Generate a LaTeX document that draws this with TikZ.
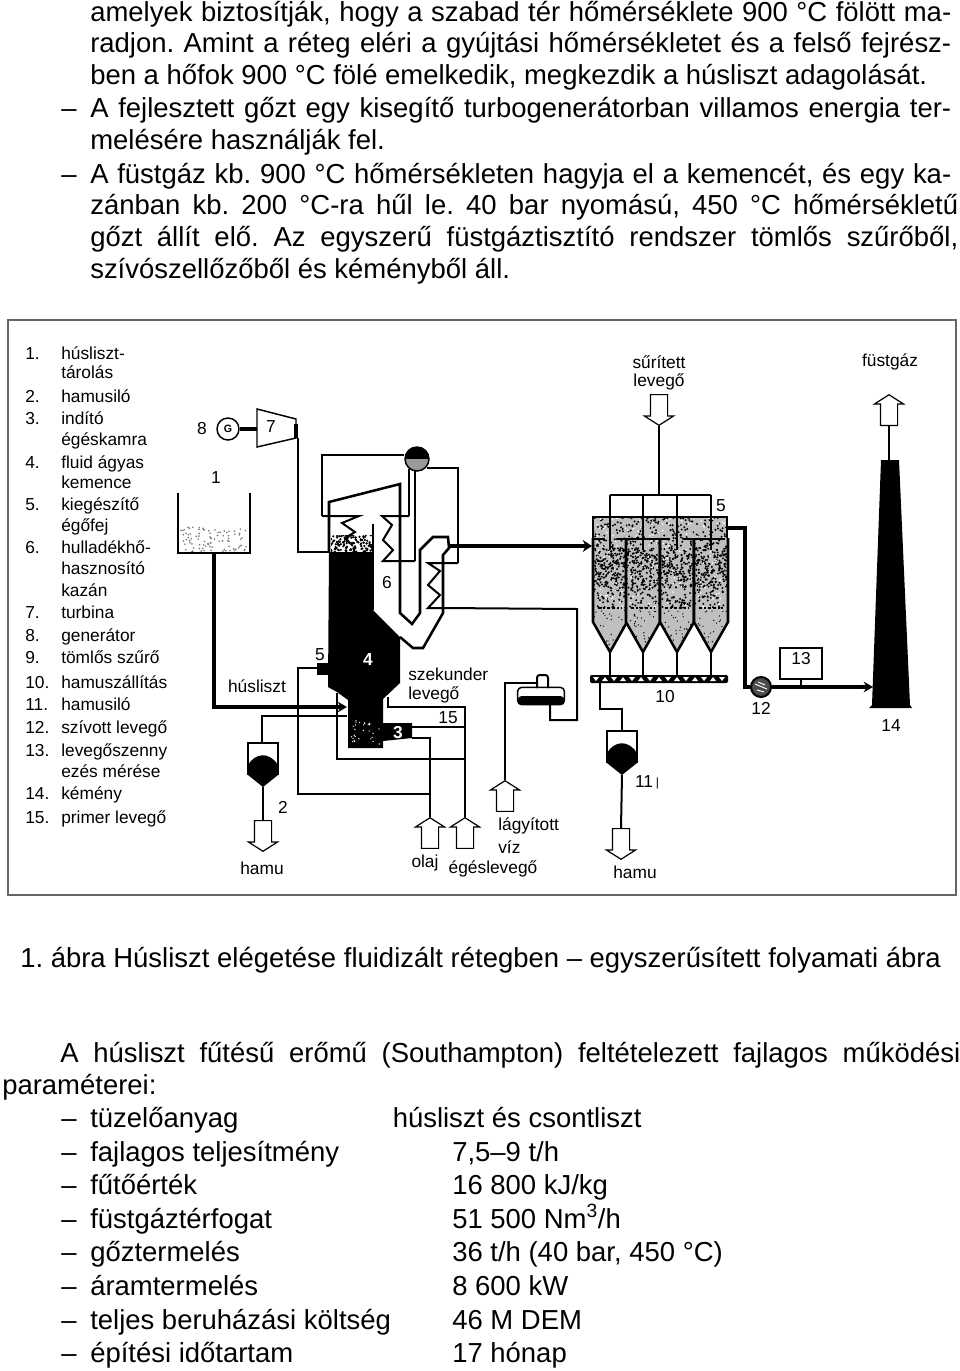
\documentclass[tikz,border=0pt]{standalone}
\usepackage{fontspec}
\setmainfont{Liberation Sans}
\frenchspacing
\usetikzlibrary{arrows.meta, positioning, calc, shapes.arrows}
\newcommand{\fullline}[2]{\hbox to #1pt{#2}}
\tikzset{
    plantdiagram/.style={x=0.75pt, y=-0.75pt, >=Stealth},
    bodytext/.style={anchor=base west, inner sep=0pt, font=\fontsize{20.6}{24}\selectfont},
    legendtext/.style={anchor=base west, inner sep=0pt, font=\fontsize{13}{15}\selectfont},
    tag/.style={inner sep=0pt, align=center, font=\fontsize{13}{15}\selectfont},
    frameline/.style={draw=black!60, line width=1.2pt},
    wall/.style={line width=1.9pt},
    thinpipe/.style={line width=1.1pt},
    midpipe/.style={line width=1.5pt},
    heavypipe/.style={line width=2.6pt},
    gaspipe/.style={line width=3.6pt},
    flowarrow/.style={draw, fill=white, line width=0.9pt, single arrow, single arrow head extend=4.5pt,
        single arrow tip angle=115, single arrow head indent=0pt, minimum height=23pt,
        inner xsep=0pt, inner ysep=6pt},
    ashsilo/.pic={
        \fill (-15,22) .. controls (-8,10) and (6,8) .. (15,22) -- (15,32) -- (0,44) -- (-15,32) -- cycle;
        \draw[wall] (-15,32) -- (-15,0) -- (15,0) -- (15,32);
        \coordinate (-top) at (0,0);
        \coordinate (-tip) at (0,44);
    },
}
\begin{document}
\begin{tikzpicture}[plantdiagram]
    \useasboundingbox (0,0) rectangle (960,1371);
    \pgfmathsetseed{7}

    % text above the figure
    \node[bodytext] (top1) at (90,21)  {\fullline{645.75}{amelyek biztosítják, hogy a szabad tér hőmérséklete 900 °C fölött ma-}};
    \node[bodytext] (top2) at (90,52)  {\fullline{645.75}{radjon. Amint a réteg eléri a gyújtási hőmérsékletet és a felső fejrész-}};
    \node[bodytext] (top3) at (90,84)  {ben a hőfok 900 °C fölé emelkedik, megkezdik a húsliszt adagolását.};
    \node[bodytext] (top4) at (90,117) {\fullline{645.75}{A fejlesztett gőzt egy kisegítő turbogenerátorban villamos energia ter-}};
    \node[bodytext] (top5) at (90,149) {melésére használják fel.};
    \node[bodytext] (top6) at (90,183) {\fullline{645.75}{A füstgáz kb. 900 °C hőmérsékleten hagyja el a kemencét, és egy ka-}};
    \node[bodytext] (top7) at (90,214) {\fullline{651}{zánban kb. 200 °C-ra hűl le. 40 bar nyomású, 450 °C hőmérsékletű}};
    \node[bodytext] (top8) at (90,246) {\fullline{651}{gőzt állít elő. Az egyszerű füstgáztisztító rendszer tömlős szűrőből,}};
    \node[bodytext] (top9) at (90,278) {szívószellőzőből és kéményből áll.};
    \node[bodytext] (dash4) at (61,117) {–};
    \node[bodytext] (dash6) at (61,183) {–};

    % frame and legend
    \draw[frameline] (8,320) rectangle (956,895);
    \foreach \y/\lbl in {359/1., 402/2., 424/3., 468/4., 510/5., 553/6., 618/7., 641/8., 663/9., 688/10., 710/11., 733/12., 756/13., 799/14., 823/15.}
        \node[legendtext] (num\lbl) at (25,\y) {\lbl};
    \foreach \y/\lbl [count=\n] in {359/húsliszt-, 378/tárolás, 402/hamusiló, 424/indító, 445/égéskamra, 468/fluid ágyas, 488/kemence, 510/kiegészítő, 531/égőfej, 553/hulladékhő-, 574/hasznosító, 596/kazán, 618/turbina, 641/generátor, 663/tömlős szűrő, 688/hamuszállítás, 710/hamusiló, 733/szívott levegő, 756/levegőszenny, 777/ezés mérése, 799/kémény, 823/primer levegő}
        \node[legendtext] (leg\n) at (61,\y) {\lbl};

    % storage tank 1
    \begin{scope}
        \clip (180,525) rectangle (248,552);
        \foreach \i in {1,...,90}
            \fill[black!55] ({181+66*rnd},{527+25*rnd}) circle (0.9);
    \end{scope}
    \draw[wall] (178,493) |- (250,553) -- (250,493);
    \coordinate (tankout) at (214,553);

    % turbine and generator
    \coordinate (turbA) at (257,409);
    \coordinate (turbB) at (296,419);
    \coordinate (turbC) at (296,438);
    \coordinate (turbD) at (257,447);
    \draw[thinpipe] (turbA) -- (turbB) -- (turbC) -- (turbD) -- cycle;
    \node[draw, circle, line width=1.1pt, minimum size=16.5pt, inner sep=0pt, font=\fontsize{8}{8}\bfseries\selectfont] (gen) at (228,429) {G};
    \draw[heavypipe] (gen) -- (gen -| turbA);
    \draw[heavypipe] (296,424) -- (turbC);

    % furnace 4
    \fill (329,552) -- (373,552) -- (373,610) -- (400,637) -- (400,683) -- (383,699) -- (383,723) -- (412,723)
        -- (412,738) -- (383,741) -- (383,748) -- (348,748) -- (348,700) -- (337,692) -- (328,687) -- cycle;
    \foreach \i in {1,...,28}
        \fill[white] ({350+32*rnd},{719+26*rnd}) circle (0.7);
    \begin{scope}
        \clip (331,535) rectangle (372,553);
        \foreach \i in {1,...,130}
            \fill ({331+41*rnd},{535+18*rnd}) circle (1.2);
    \end{scope}
    \fill (317,663) rectangle (329,675);
    \coordinate (burner) at (317,668);
    \draw[wall] (329,552) -- (329,502) -- (400,484) -- (400,613) -- (412,624) -- (420,613) -- (420,550) -- (433,537)
        -- (448,537) -- (449,548) -- (443,555) -- (443,613) -- (423,648) -- (413,648) -- (400,637);
    \draw[wall] (373,524) -- (373,610);

    % steam drum and coils
    \node[draw, circle, thinpipe, minimum size=18pt, inner sep=0pt, fill=black!40,
        path picture={\fill[black] (path picture bounding box.west) rectangle (path picture bounding box.north east);}] (drum) at (417,459) {};
    \draw[thinpipe] (turbC) ++ (2,0) |- (329,552);
    \draw[thinpipe] (drum.west |- 0,455) -| (322,516);
    \draw[midpipe] (322,516) -- (359,516) -- (342,523) -- (355,532) -- (345,538) -- (352,545);
    \draw[thinpipe] (409,469) -- (409,516);
    \draw[midpipe] (409,516) -- (382,516) -- (392,525) -- (383,540) -- (393,550) -- (383,561) -- (415,561);
    \draw[thinpipe] (415,470) -- (415,561);
    \draw[thinpipe] (427,468) -| (458,563);
    \draw[midpipe] (458,563) -- (428,563) -- (440,571) -- (428,585) -- (440,595) -- (428,608) -- (443,608);

    % feed water heater
    \node[draw, thinpipe, rounded corners=3pt, minimum width=35pt, minimum height=13pt, inner sep=0pt,
        path picture={\fill (path picture bounding box.west) rectangle (path picture bounding box.south east);}] (heater) at (541,696) {};
    \draw[midpipe, rounded corners=2pt] (537,688) -- (537,675) -- (548,675) -- (548,688);
    \node[flowarrow, rotate=90, anchor=tip] (waterin) at (505,780) {};
    \draw[thinpipe] (waterin.tip) |- (537,683);
    \draw[midpipe] (550,705) |- (577,720) -- (577,609) -- (443,608);

    % feeds of the furnace
    \coordinate (feedin) at (347,707);
    \draw[heavypipe, -{Stealth[length=7pt, width=8pt]}] (tankout) |- (feedin);
    \draw[thinpipe] (347,716) -| (262,742);
    \pic (silotwo) at (263,743) {ashsilo};
    \node[flowarrow, rotate=-90, anchor=tail] (ashoutA) at (263,820) {};
    \draw[thinpipe] (silotwo-tip) -- (ashoutA.tail);
    \node[flowarrow, rotate=90, anchor=tip] (oilin) at (430,817) {};
    \node[flowarrow, rotate=90, anchor=tip] (airin) at (465,817) {};
    \draw[midpipe] (412,738) -| (oilin.tip);
    \draw[midpipe] (388,697) |- (465,707) -- (airin.tip);
    \draw[midpipe] (412,727) -- (465,727);
    \draw[wall] (337,693) |- (465,759);
    \draw[thinpipe] (burner) -| (298,794) -- (430,794);

    % bag filter 9
    \foreach \cx/\n in {610/1, 643/2, 677/3, 711/4} {
        \begin{scope}
            \clip (\cx-17,517) -- (\cx+17,517) -- (\cx+17,622) -- (\cx,652) -- (\cx-17,622) -- cycle;
            \fill[black!25] (\cx-17,517) rectangle (\cx+17,652);
            \foreach \i in {1,...,170}
                \fill ({\cx-17+34*rnd},{517+91*rnd}) circle (1.1);
            \foreach \i in {1,...,110}
                \fill ({\cx-17+34*rnd},{548+40*rnd}) circle (1.1);
            \foreach \i in {1,...,40}
                \fill ({\cx-17+34*rnd},{610+42*rnd}) circle (0.7);
            \foreach \i in {1,...,40}
                \fill[white] ({\cx-17+34*rnd},{517+91*rnd}) circle (0.9);
        \end{scope}
        \draw[wall] (\cx-17,538) -- (\cx-17,622) -- (\cx,652) -- (\cx+17,622) -- (\cx+17,538);
        \draw[wall, dash pattern=on 2pt off 1.5pt] (\cx-12,608) -- (\cx+12,608);
        \coordinate (hopper\n) at (\cx,652);
        \coordinate (riser\n) at (\cx,495);
        \draw[midpipe] (riser\n) -- (\cx,550);
    }
    \draw[wall] (593,538) |- (727,517) -- (727,538);
    \draw[wall] (593,539) -- (605,539) (617,539) -- (670,539) (683,539) -- (725,539);
    \draw[midpipe] (riser1) -- (riser4);
    \node[flowarrow, rotate=-90, anchor=tip] (airfilter) at (659,426) {};
    \draw[thinpipe] (airfilter.tip) -- (659,495);
    \coordinate (gasin) at (592,546);
    \draw[gaspipe, -{Stealth[length=7pt, width=9pt]}] (449,546) -- (gasin);

    % ash conveyor and silo 11
    \node[fill, rounded corners=1pt, minimum width=103.5pt, minimum height=6pt, inner sep=0pt] (conveyor) at (659,679) {};
    \foreach \tx [count=\n] in {596,605,...,722}
        \fill[white] (\tx-3,{681-mod(\n,2)*4}) -- (\tx+3,{681-mod(\n,2)*4}) -- (\tx,{681-mod(\n+1,2)*4}) -- cycle;
    \foreach \n in {1,...,4}
        \draw[midpipe] (hopper\n) -- (hopper\n |- conveyor.north);
    \draw[midpipe] (600,683) |- (622,709) -- (622,731);
    \pic (siloeleven) at (622,731) {ashsilo};
    \node[flowarrow, rotate=-90, anchor=tail] (ashoutB) at (621,828) {};
    \draw[midpipe] (siloeleven-tip) -- (ashoutB.tail);

    % fan, monitor and stack
    \node[draw, circle, midpipe, minimum size=15pt, inner sep=0pt, fill=black!70] (fan) at (761,687) {};
    \draw[white, line width=0.7pt] (755,684) -- (767,689) (757,690) -- (764,692) (758,682) -- (765,685);
    \draw[heavypipe] (727,528) -| (745,687) -- (fan);
    \coordinate (stackin) at (873,687);
    \draw[heavypipe, -{Stealth[length=7pt, width=8pt]}] (fan) -- (stackin);
    \node[draw, thinpipe, minimum width=31.5pt, minimum height=23pt, inner sep=0pt] (monitor) at (801,663.5) {};
    \draw[thinpipe] (monitor.south) -- (monitor.south |- fan);
    \fill (881,460) -- (899,460) -- (910,705) -- (912,708) -- (869,708) -- (872,705) -- cycle;
    \coordinate (stacktop) at (889,460);
    \node[flowarrow, rotate=90, anchor=tail] (gasout) at (889,426) {};
    \draw[thinpipe] (stacktop) -- (gasout.tail);

    % labels of the figure
    \node[tag] (lab1) at (216,478) {1};
    \node[tag] (lab2) at (283,807) {2};
    \node[tag, text=white, font=\fontsize{13}{15}\bfseries\selectfont] (lab3) at (398,733) {3};
    \node[tag, text=white, font=\fontsize{13}{15}\bfseries\selectfont] (lab4) at (368,660) {4};
    \node[tag] (lab5) at (320,655) {5};
    \node[tag] (lab5b) at (721,506) {5};
    \node[tag] (lab6) at (387,583) {6};
    \node[tag] (lab7) at (271,427) {7};
    \node[tag] (lab8) at (202,429) {8};
    \node[tag] (lab10) at (665,697) {10};
    \node[tag] (lab11) at (647,782) {11\,\raisebox{0.5pt}{\fontsize{9}{9}\selectfont|}};
    \node[tag] (lab12) at (761,708) {12};
    \node[tag] (lab13) at (801,659) {13};
    \node[tag] (lab14) at (891,726) {14};
    \node[tag] (lab15) at (448,718) {15};
    \node[tag] (labfeed) at (257,686) {húsliszt};
    \node[tag, anchor=west] (labsec) at (408,674) {szekunder};
    \node[tag, anchor=west] (labsecb) at (408,695) {levegő};
    \node[tag] (labashA) at (262,868) {hamu};
    \node[tag] (laboil) at (425,863) {olaj};
    \node[tag] (labair) at (493,869) {égéslevegő};
    \node[tag, anchor=west] (labwater) at (498,826) {lágyított};
    \node[tag, anchor=west] (labwaterb) at (498,847) {víz};
    \node[tag] (labcomp) at (659,362) {sűrített};
    \node[tag] (labcompb) at (659,382) {levegő};
    \node[tag] (labflue) at (890,362) {füstgáz};
    \node[tag] (labashB) at (635,872) {hamu};

    % caption and parameter list
    \node[bodytext] (caption) at (20,967) {1. ábra Húsliszt elégetése fluidizált rétegben – egyszerűsített folyamati ábra};
    \node[bodytext] (intro) at (60,1062) {\fullline{675}{A húsliszt fűtésű erőmű (Southampton) feltételezett fajlagos működési}};
    \node[bodytext] (introb) at (2,1094) {paraméterei:};
    \foreach \y/\lbl [count=\n] in {1127/tüzelőanyag, 1161/fajlagos teljesítmény, 1194/fűtőérték, 1228/füstgáztérfogat, 1261/gőztermelés, 1295/áramtermelés, 1329/teljes beruházási költség, 1362/építési időtartam} {
        \node[bodytext] (dash\n) at (61,\y) {–};
        \node[bodytext] (par\n) at (90,\y) {\lbl};
    }
    \node[bodytext] (val1) at (392.5,1127) {húsliszt és csontliszt};
    \foreach \y/\lbl [count=\n from 2] in {1161/{7,5–9 t/h}, 1194/{16 800 kJ/kg}, 1228/{51 500 Nm\textsuperscript{3}/h}, 1261/{36 t/h (40 bar, 450 °C)}, 1295/{8 600 kW}, 1329/{46 M DEM}, 1362/{17 hónap}}
        \node[bodytext] (val\n) at (452,\y) {\lbl};
\end{tikzpicture}
\end{document}
